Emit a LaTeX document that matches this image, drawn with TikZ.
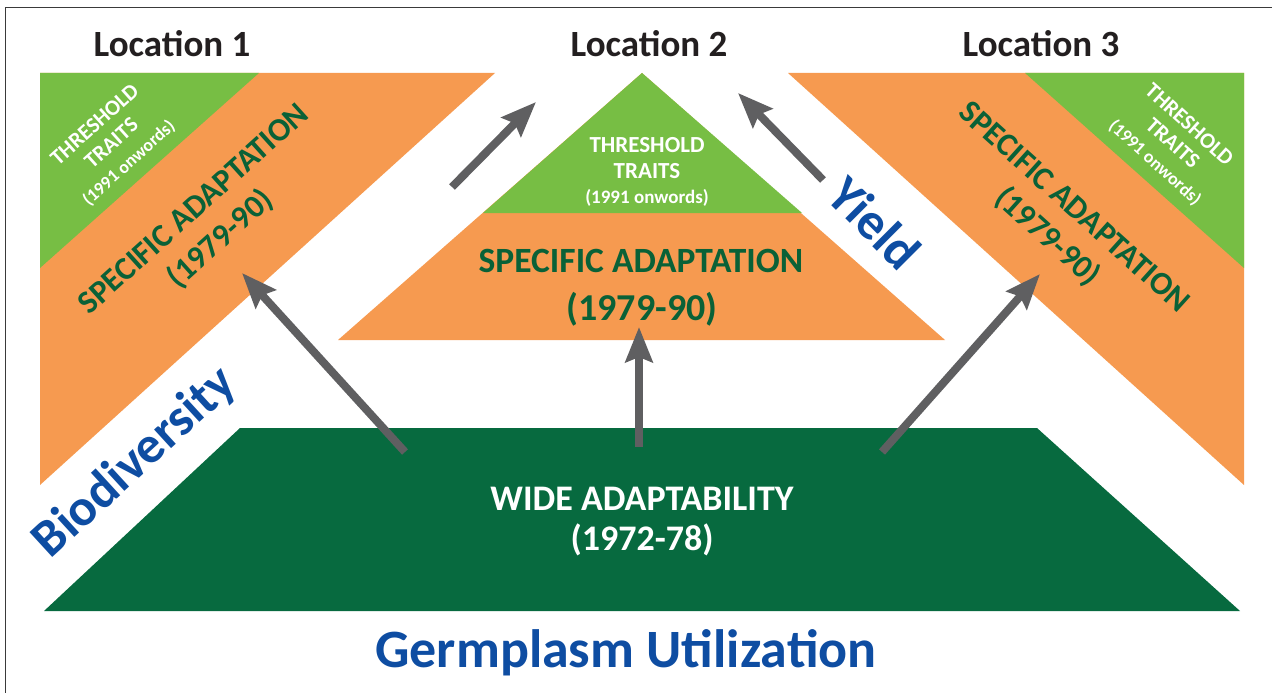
\documentclass[tikz,border=0pt]{standalone}
\usepackage{fontspec}
\setmainfont{Carlito}
\usetikzlibrary{arrows.meta}
\definecolor{orangec}{HTML}{F69A50}
\definecolor{lgreen}{HTML}{77BE44}
\definecolor{dgreen}{HTML}{076A3F}
\definecolor{tgreen}{HTML}{0A6137}
\definecolor{arrgray}{HTML}{5F5F61}
\definecolor{bluec}{HTML}{0E4DA2}
\definecolor{lblblack}{HTML}{231F20}
\definecolor{framec}{HTML}{3A3A3A}
\tikzset{
  loclbl/.style={font=\bfseries\fontsize{37}{40}\selectfont, text=lblblack, inner sep=0pt, anchor=base},
  thrtxt/.style={font=\bfseries\fontsize{23}{25}\selectfont, text=white, inner sep=0pt, anchor=base},
  thrsmall/.style={font=\bfseries\fontsize{19}{20}\selectfont, text=white, inner sep=0pt, anchor=base},
  spectxt/.style={font=\bfseries\fontsize{35.5}{40}\selectfont, text=tgreen, inner sep=0pt, anchor=base},
  widetxt/.style={font=\bfseries\fontsize{36}{40}\selectfont, text=white, inner sep=0pt, anchor=base},
  bluetxt/.style={font=\bfseries\fontsize{52}{56}\selectfont, text=bluec, inner sep=0pt},
  rotthr/.style={font=\bfseries\fontsize{22}{25}\selectfont, text=white, inner sep=0pt, align=center},
  rotspec/.style={font=\bfseries\fontsize{32.5}{40}\selectfont, text=tgreen, inner sep=0pt, align=center},
  arr/.style={draw=arrgray, line width=8pt, -{Stealth[length=35pt,width=27pt,inset=5pt]}}
}
\begin{document}
\begin{tikzpicture}[x=1pt,y=-1pt]
\useasboundingbox (0,0) rectangle (1272,693);
% frame
\draw[framec, line width=1.5pt] (5.5,693) -- (5.5,7.5) -- (1272,7.5);
% shapes
\fill[orangec] (40,73) -- (495,73) -- (40,485) -- cycle;
\fill[lgreen] (40,73) -- (259,73) -- (40,268) -- cycle;
\fill[orangec] (788,73) -- (1244,73) -- (1244,485) -- cycle;
\fill[lgreen] (1025,73) -- (1244,73) -- (1244,268) -- cycle;
\fill[orangec] (642,73) -- (945,340) -- (338,340) -- cycle;
\fill[lgreen] (642,73) -- (802,213) -- (483,213) -- cycle;
\fill[dgreen] (240,428) -- (1037,428) -- (1240,611) -- (44,611) -- cycle;
% location labels
\node[loclbl] (loc1) at (172,57) {Location 1};
\node[loclbl] (loc2) at (649,57) {Location 2};
\node[loclbl] (loc3) at (1041,57) {Location 3};
% centre texts
\node[thrtxt] (cthr1) at (647,152) {THRESHOLD};
\node[thrtxt] (cthr2) at (647,178) {TRAITS};
\node[thrsmall] (cthr3) at (647,203) {(1991 onwords)};
\node[spectxt] (cspec1) at (641,272) {SPECIFIC ADAPTATION};
\node[spectxt, font=\bfseries\fontsize{38}{40}\selectfont] (cspec2) at (642,320) {(1979-90)};
\node[widetxt] (wide1) at (642,510) {WIDE ADAPTABILITY};
\node[widetxt] (wide2) at (642,550) {(1972-78)};
\node[font=\bfseries\fontsize{54}{56}\selectfont, text=bluec, inner sep=0pt, anchor=base] (germ) at (626,667) {Germplasm Utilization};
% rotated texts
\node[rotthr, rotate=42] (lthr) at (112,144) {THRESHOLD\\TRAITS\\{\fontsize{18}{20}\selectfont (1991 onwords)}};
\node[rotthr, rotate=-42] (rthr) at (1172,144) {THRESHOLD\\TRAITS\\{\fontsize{18}{20}\selectfont (1991 onwords)}};
\node[rotspec, rotate=42] (lspec) at (208,225) {SPECIFIC ADAPTATION\\(1979-90)};
\node[rotspec, rotate=-42] (rspec) at (1060,223) {SPECIFIC ADAPTATION\\(1979-90)};
\node[bluetxt, rotate=42.5] (bio) at (135,463) {Biodiversity};
\node[bluetxt, rotate=-45] (yield) at (875,223) {Yield};
% arrows
\coordinate (a1s) at (405,452); \coordinate (a1e) at (242,273);
\coordinate (a2s) at (639,447); \coordinate (a2e) at (639,327);
\coordinate (a3s) at (882,452); \coordinate (a3e) at (1040,274);
\coordinate (a4s) at (452,187); \coordinate (a4e) at (536,102);
\coordinate (a5s) at (823,180); \coordinate (a5e) at (738,93);
\draw[arr] (a1s) -- (a1e);
\draw[arr] (a2s) -- (a2e);
\draw[arr] (a3s) -- (a3e);
\draw[arr] (a4s) -- (a4e);
\draw[arr] (a5s) -- (a5e);
\end{tikzpicture}
\end{document}
